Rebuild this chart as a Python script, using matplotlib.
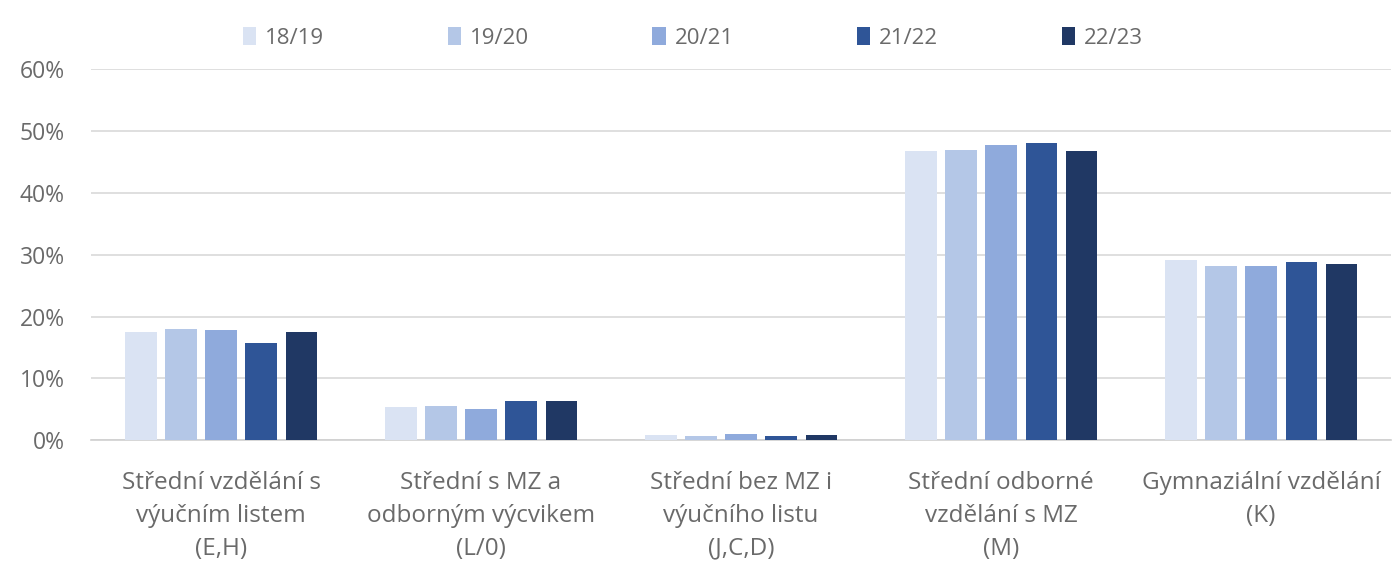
import matplotlib.pyplot as plt
import numpy as np

plt.rcParams['font.family'] = ['Open Sans', 'DejaVu Sans']

categories = ['Střední vzdělání s\nvýučním listem\n(E,H)',
              'Střední s MZ a\nodborným výcvikem\n(L/0)',
              'Střední bez MZ i\nvýučního listu\n(J,C,D)',
              'Střední odborné\nvzdělání s MZ\n(M)',
              'Gymnaziální vzdělání\n(K)']
years = ['18/19', '19/20', '20/21', '21/22', '22/23']
values = {
    '18/19': [17.5, 5.3, 0.8, 46.8, 29.1],
    '19/20': [18.0, 5.5, 0.7, 47.0, 28.2],
    '20/21': [17.8, 5.0, 1.0, 47.7, 28.2],
    '21/22': [15.7, 6.3, 0.7, 48.1, 28.9],
    '22/23': [17.5, 6.3, 0.8, 46.8, 28.5],
}
colors = ['#dae3f3', '#b4c7e7', '#8faadc', '#2f5597', '#203864']

fig = plt.figure(figsize=(13.94, 5.63), dpi=100)
ax = fig.add_axes([0.0653, 0.218, 0.9326, 0.659])

x = np.arange(len(categories))
w = 0.12
step = 0.154
for i, yr in enumerate(years):
    ax.bar(x + (i - 2) * step, np.array(values[yr]) / 100, width=w,
           color=colors[i], label=yr, zorder=3)

ax.set_xlim(-0.5, 4.5)
ax.set_ylim(0, 0.6)
ax.set_yticks(np.arange(0, 0.61, 0.1))
ax.set_yticklabels([f'{int(round(t * 100))}%' for t in np.arange(0, 0.61, 0.1)])
ax.grid(axis='y', color='#d9d9d9', linewidth=1.2, zorder=0)
for s in ['top', 'right', 'left']:
    ax.spines[s].set_visible(False)
ax.spines['bottom'].set_color('#d0d0d0')
ax.spines['bottom'].set_linewidth(1.2)
ax.set_xticks(x)
ax.set_xticklabels(categories, fontsize=17.5, color='#6a6a6a', linespacing=1.5)
ax.tick_params(axis='x', length=0, pad=22)
ax.tick_params(axis='y', length=0, labelsize=16.5, labelcolor='#6a6a6a', pad=19)

leg = fig.legend(loc='center', bbox_to_anchor=(0.497, 1 - 38 / 563), ncol=5,
                 frameon=False, fontsize=16, handlelength=0.6, handleheight=0.85,
                 handletextpad=0.4, columnspacing=5.55)
for t in leg.get_texts():
    t.set_color('#6a6a6a')

fig.savefig('out.png', dpi=100)
